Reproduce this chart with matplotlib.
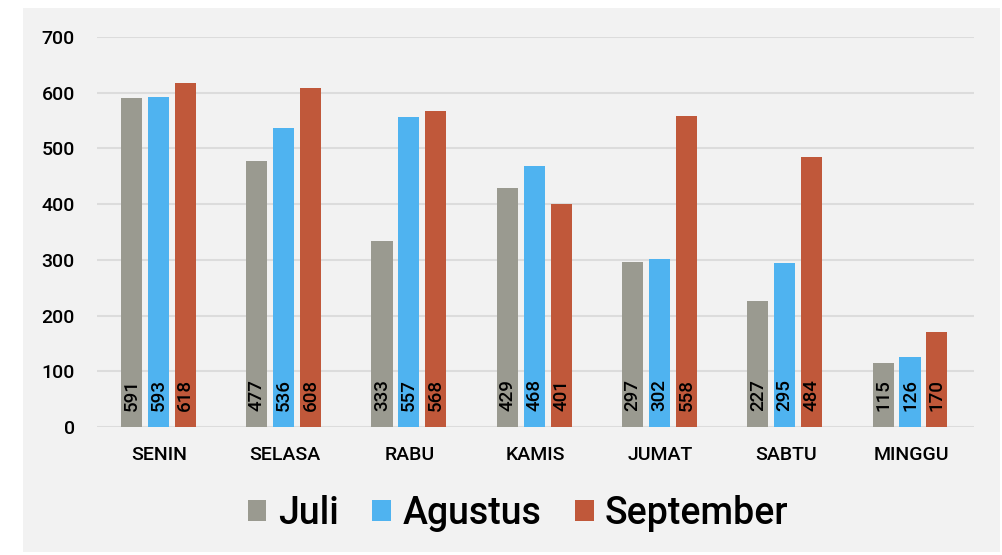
import numpy as np
import matplotlib.pyplot as plt
from matplotlib.patches import Rectangle

days = ['SENIN', 'SELASA', 'RABU', 'KAMIS', 'JUMAT', 'SABTU', 'MINGGU']
juli = [591, 477, 333, 429, 297, 227, 115]
agustus = [593, 536, 557, 468, 302, 295, 126]
september = [618, 608, 568, 401, 558, 484, 170]

series = [('Juli', juli, '#9a9a90'),
          ('Agustus', agustus, '#4fb3f0'),
          ('September', september, '#c0583a')]

plt.rcParams['font.family'] = ['Roboto', 'DejaVu Sans']
plt.rcParams['font.weight'] = 'medium'

fig = plt.figure(figsize=(10.03, 5.55), dpi=100)
fig.patch.set_facecolor('white')
fig.patches.append(Rectangle((23 / 1003, 3 / 555), 977 / 1003, 544 / 555,
                             transform=fig.transFigure, facecolor='#f2f2f2',
                             edgecolor='none', zorder=-10))

ax = fig.add_axes([0.0967, 0.2306, 0.8743, 0.7027])
ax.set_facecolor('none')

x = np.arange(len(days))
w = 0.168
step = 0.215
for i, (name, vals, col) in enumerate(series):
    pos = x + (i - 1) * step - 0.01
    ax.bar(pos, vals, width=w, color=col, label=name, zorder=3)
    for p, v in zip(pos, vals):
        ax.annotate(str(v), (p, 0), xytext=(0, 23), textcoords='offset points',
                    rotation=90, ha='center', va='center',
                    fontsize=13.5, color='black', zorder=4)

ax.set_xlim(-0.5, 6.5)
ax.set_ylim(0, 700)
ax.set_yticks(range(0, 701, 100))
ax.set_xticks(x)
ax.set_xticklabels(days)
ax.grid(axis='y', color='#dcdcdc', linewidth=1.5, zorder=0)
for s in ax.spines.values():
    s.set_visible(False)
ax.tick_params(length=0, labelsize=14)
ax.tick_params(axis='y', pad=16)
ax.tick_params(axis='x', pad=14)

fig.legend(loc='center', bbox_to_anchor=(518 / 1003, 1 - 513 / 555), ncol=3,
           frameon=False, fontsize=27, handlelength=0.5, handleheight=0.5,
           handletextpad=0.3, columnspacing=0.9)

fig.savefig('out.png', dpi=100, facecolor='white')
